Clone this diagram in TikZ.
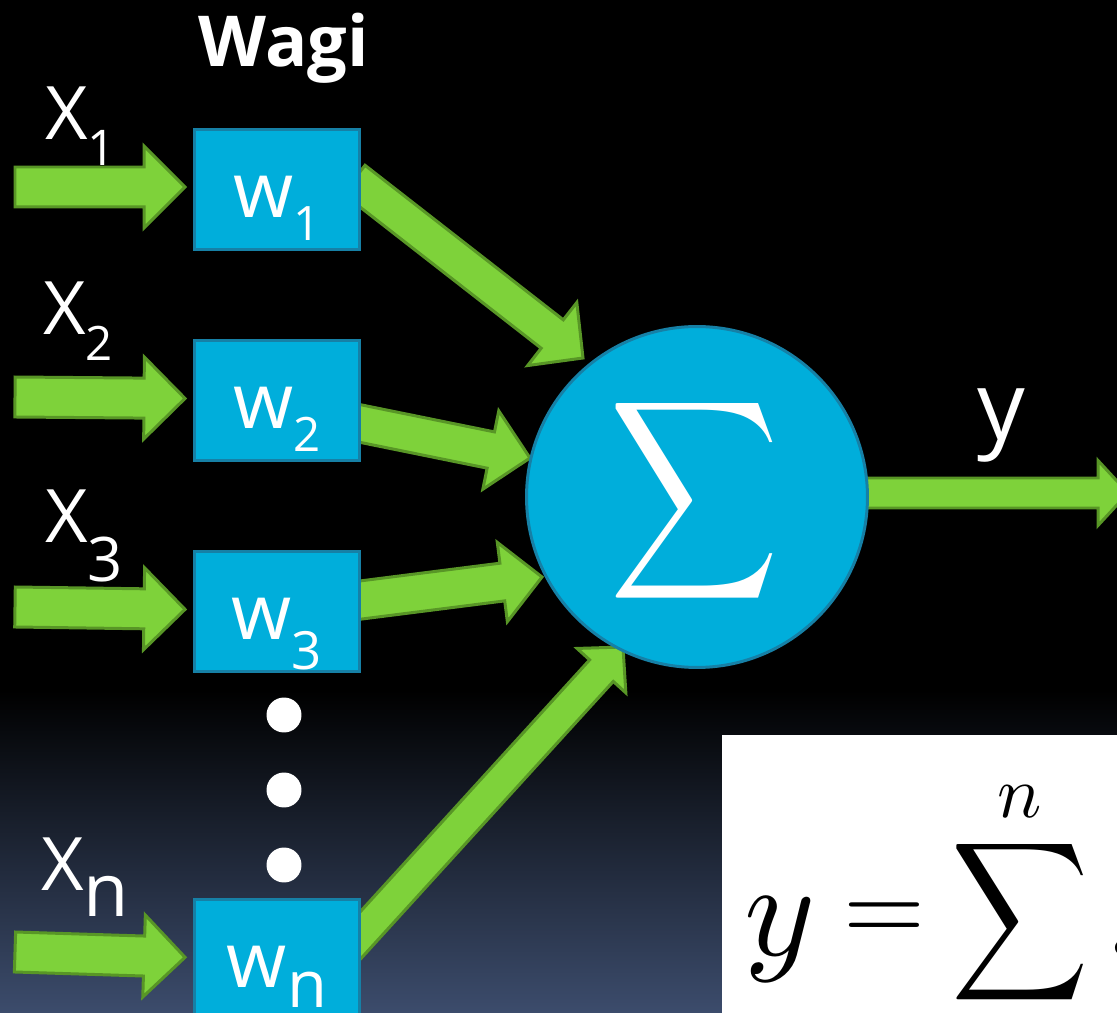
\documentclass[tikz,border=0pt]{standalone}
\usepackage{fontspec}
\setmainfont{Open Sans}
\usepackage{tikz}
\usetikzlibrary{positioning, calc}

\definecolor{neurblue}{RGB}{0,174,219}
\definecolor{neuredge}{RGB}{22,128,166}
\definecolor{arrfill}{RGB}{126,210,58}
\definecolor{arredge}{RGB}{88,150,38}
\definecolor{slate}{RGB}{60,76,108}

\pgfdeclarelayer{bg}
\pgfdeclarelayer{arrows}
\pgfsetlayers{bg,arrows,main}

% block arrow: style, from, to, half shaft, half head, head length
\newcommand{\blockarrow}[6]{%
  \coordinate (ba-s) at #2;
  \coordinate (ba-e) at #3;
  \coordinate (ba-b) at ($(ba-e)!#6!(ba-s)$);
  \filldraw[#1] ($(ba-s)!#4!90:(ba-e)$) -- ($(ba-b)!#4!-90:(ba-s)$)
    -- ($(ba-b)!#5!-90:(ba-s)$) -- (ba-e) -- ($(ba-b)!#5!90:(ba-s)$)
    -- ($(ba-b)!#4!90:(ba-s)$) -- ($(ba-s)!#4!-90:(ba-e)$) -- cycle;
}
\newcommand{\lowsub}[3]{\raisebox{-#2}{\fontsize{#1}{#1}\selectfont #3}}

\begin{document}
\begin{tikzpicture}[
    x=0.02cm, y=-0.02cm,
    wbox/.style={rectangle, draw=neuredge, fill=neurblue, line width=1.7pt, minimum width=3.30cm, minimum height=2.40cm, inner sep=0pt, text=white, font=\fontsize{44}{44}\selectfont, text height=1.14cm, text depth=0pt},
    sumnode/.style={circle, draw=neuredge, fill=neurblue, line width=1.7pt, minimum size=6.82cm, inner sep=0pt},
    xlbl/.style={text=white, font=\fontsize{42}{42}\selectfont, inner sep=0pt, anchor=base west},
    title/.style={text=white, font=\bfseries\fontsize{40}{40}\selectfont, inner sep=0pt, anchor=base},
    dotc/.style={circle, fill=white, minimum size=0.70cm, inner sep=0pt},
    blockarr/.style={fill=arrfill, draw=arredge, line width=1.7pt, line join=miter},
    formula/.style={text=black, inner sep=0pt}
]

    \useasboundingbox (0,0) rectangle (1117,1013);
    \clip (0,0) rectangle (1117,1013);

    \begin{pgfonlayer}{bg}
        \fill[black] (0,0) rectangle (1117,1013);
        \shade[top color=black, bottom color=slate] (0,690) rectangle (1117,1013);
    \end{pgfonlayer}

    \node [title] (title) at (284,67) {Wagi};

    \node [wbox] (w1) at (277,189.5) {w\lowsub{27pt}{0.45cm}{1}};
    \node [wbox, below=1.76cm of w1] (w2) {w\lowsub{27pt}{0.45cm}{2}};
    \node [wbox, below=1.76cm of w2] (w3) {w\lowsub{30pt}{0.6cm}{3}};
    \node [wbox, below=4.5cm of w3] (wn) {w\lowsub{37pt}{0.4cm}{n}};

    \node [xlbl] (x1) at (45,140) {X\lowsub{28pt}{0.52cm}{1}};
    \node [xlbl] (x2) at (43,335) {X\lowsub{27pt}{0.52cm}{2}};
    \node [xlbl] (x3) at (45,543) {X\lowsub{35pt}{0.78cm}{3}};
    \node [xlbl] (xn) at (41,890) {X\lowsub{42pt}{0.54cm}{n}};

    \foreach \i/\yy in {1/715, 2/790, 3/865}
        \node [dotc] (dot\i) at (284,\yy) {};

    \node [sumnode] (sum) at (697,497) {};
    \node [text=white, inner sep=0pt] (sig) at ($(sum.center)+(-2,4)$) {\resizebox*{3.40cm}{4.45cm}{$\displaystyle\sum$}};

    \node [text=white, font=\fontsize{54}{54}\selectfont, inner sep=0pt, anchor=base] (ylbl) at (1001,440) {y};

    \coordinate (in1) at (15,187);
    \coordinate (in2) at (15,397);
    \coordinate (in3) at (15,607);
    \coordinate (in4) at (15,952);
    \coordinate (yout) at (1128,493);

    \begin{pgfonlayer}{arrows}
        \blockarrow{blockarr}{(in1)}{($(w1.west)+(-8,-2.5)$)}{0.4cm}{0.82cm}{0.82cm}
        \blockarrow{blockarr}{(in2)}{($(w2.west)+(-8,-2)$)}{0.4cm}{0.82cm}{0.82cm}
        \blockarrow{blockarr}{(in3)}{($(w3.west)+(-8,-2)$)}{0.4cm}{0.82cm}{0.82cm}
        \blockarrow{blockarr}{(in4)}{($(wn.west)+(-8,-2)$)}{0.4cm}{0.82cm}{0.82cm}

        \blockarrow{blockarr}{($(w1.east)+(-7,-10)$)}{($(sum.center)+(-114,-139)$)}{0.36cm}{0.8cm}{0.78cm}
        \blockarrow{blockarr}{($(w2.east)+(-11,21)$)}{($(sum.center)+(-167,-39)$)}{0.37cm}{0.8cm}{0.8cm}
        \blockarrow{blockarr}{($(w3.east)+(-11,-10)$)}{($(sum.center)+(-155,80)$)}{0.38cm}{0.8cm}{0.8cm}
        \blockarrow{blockarr}{($(wn.east)+(-16,-7)$)}{($(sum.center)+(-74,150)$)}{0.32cm}{0.66cm}{0.64cm}

        \blockarrow{blockarr}{($(sum.east)+(-6,-4)$)}{(yout)}{0.3cm}{0.65cm}{0.6cm}
    \end{pgfonlayer}

    \fill[white] (722,735) rectangle (1140,1040);
    \node [formula, anchor=base] (fy) at (780,955) {\scalebox{7.7}{$y$}};
    \node [formula] (feq) at (884,922) {\scalebox{6}{$=$}};
    \node [formula] (fsum) at (1020,922) {\resizebox*{2.75cm}{3.55cm}{$\displaystyle\sum$}};
    \node [formula, anchor=base] (fn) at (1020,818) {\scalebox{4.2}{$n$}};
    \node [formula, anchor=base west] (fx) at (1111,955) {\scalebox{7.7}{$x$}};

\end{tikzpicture}
\end{document}
